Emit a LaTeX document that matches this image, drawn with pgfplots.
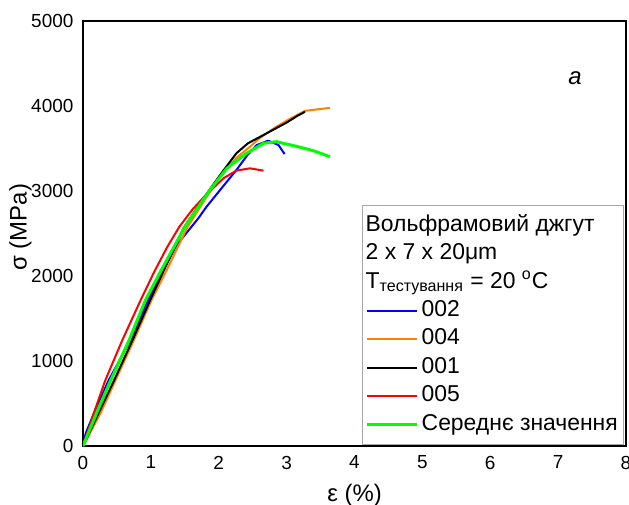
\documentclass[border=0pt]{standalone}
\usepackage{pgfplots}
\pgfplotsset{compat=1.18}
\usepackage{fontspec}
\setmainfont{Liberation Sans}

\definecolor{s002}{RGB}{0,0,255}
\definecolor{s004}{RGB}{255,128,0}
\definecolor{s001}{RGB}{0,0,0}
\definecolor{s005}{RGB}{255,0,0}
\definecolor{savg}{RGB}{0,255,0}

\begin{document}
\begin{tikzpicture}
\begin{axis}[
    name=ax,
    scale only axis,
    width=271.5bp, height=212.5bp,
    xmin=0, xmax=8, ymin=0, ymax=5000,
    xtick={0,1,...,8},
    ytick={0,1000,...,5000},
    major tick length=0pt,
    axis line style={line width=1bp, black},
    tick label style={font=\fontsize{9.5}{11}\selectfont},
    /pgf/number format/assume math mode=true,
    /pgf/number format/1000 sep={},
    scaled y ticks=false,
    xticklabel style={yshift=-1.4bp},
    yticklabel style={xshift=-1.3bp},
    label style={font=\fontsize{12}{14}\selectfont},
    xlabel={ε (\%)},
    ylabel={σ (MPa)},
    xlabel style={at={(axis description cs:0.5,-0.1153)}, anchor=center},
    ylabel style={at={(axis description cs:-0.115,0.515)}, anchor=center, rotate=0},
    legend cell align=left,
    legend image code/.code={\draw[#1] (0bp,0bp) -- (25bp,0bp);},
    legend style={
        at={(0.514,0.567)}, anchor=north west,
        draw=gray!70, line width=0.6bp,
        font=\fontsize{11.5}{13}\selectfont,
        inner xsep=1.5bp, inner ysep=3bp,
        row sep=0pt,
        nodes={inner xsep=1.5bp, inner ysep=2.2bp, text height=7.6bp, text depth=2.2bp},
    },
    every axis plot/.append style={line width=1bp, line join=round},
]
\addlegendimage{empty legend}
\addlegendentry{\hspace*{-28bp}Вольфрамовий джгут}
\addlegendimage{empty legend}
\addlegendentry{\hspace*{-28bp}2 x 7 x 20μm}
\addlegendimage{empty legend}
\addlegendentry{\hspace*{-28bp}T\textsubscript{тестування} = 20 \textsuperscript{o}C}

% 002
\addplot[s002] coordinates {
    (0,0) (0.04,150) (0.2,460) (0.38,776) (0.70,1247) (0.96,1717)
    (1.17,2050) (1.38,2364) (1.58,2561) (1.70,2680) (1.82,2815)
    (2.02,3012) (2.26,3247) (2.42,3420) (2.56,3541) (2.73,3592)
    (2.88,3541) (2.97,3435)
};
\addlegendentry{002}
% 004
\addplot[s004] coordinates {
    (0,0) (0.26,388) (0.48,776) (0.75,1247) (1.01,1717) (1.24,2080)
    (1.53,2561) (1.82,2930) (2.02,3167) (2.26,3390) (2.46,3521)
    (2.60,3620) (2.85,3757) (3.05,3850) (3.27,3943) (3.64,3978)
};
\addlegendentry{004}
% 001
\addplot[s001] coordinates {
    (0,0) (0.23,388) (0.46,776) (0.73,1247) (0.99,1717) (1.24,2150)
    (1.48,2561) (1.77,2910) (2.02,3188) (2.26,3444) (2.43,3561)
    (2.75,3698) (3.00,3805) (3.17,3890) (3.27,3931)
};
\addlegendentry{001}
% 005
\addplot[s005] coordinates {
    (0,0) (0.16,388) (0.33,776) (0.58,1247) (0.85,1717) (1.05,2050)
    (1.24,2340) (1.42,2580) (1.62,2790) (1.82,2960) (2.07,3150)
    (2.26,3240) (2.46,3267) (2.66,3239)
};
\addlegendentry{005}
% average
\addplot[savg, line width=1.5bp] coordinates {
    (0,0) (0.20,388) (0.41,776) (0.68,1247) (0.92,1717) (1.14,2050)
    (1.355,2364) (1.50,2580) (1.87,3012) (2.12,3267) (2.41,3444)
    (2.66,3561) (2.85,3580) (3.17,3521) (3.39,3475) (3.64,3403)
};
\addlegendentry{Середнє значення}

\node[font=\itshape\fontsize{12}{14}\selectfont] at (rel axis cs:0.906,0.866) {a};
\end{axis}
\pgfresetboundingbox
\useasboundingbox ([xshift=-41.5bp,yshift=-29bp]ax.south west)
    rectangle ([xshift=1.5bp,yshift=10.5bp]ax.north east);
\end{tikzpicture}
\end{document}
